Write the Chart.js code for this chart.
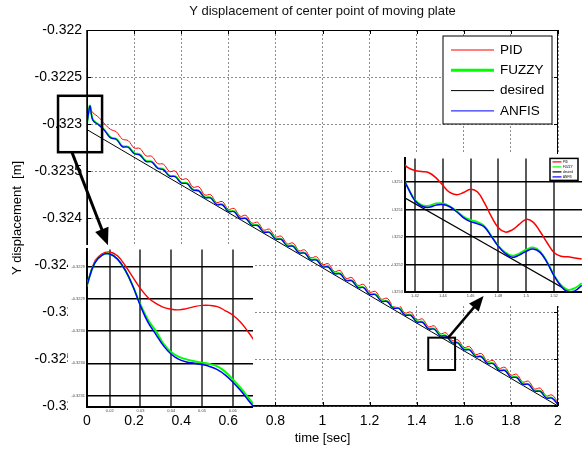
<!DOCTYPE html>
<html>
<head>
<meta charset="utf-8">
<script src="https://cdn.jsdelivr.net/npm/chart.js@4.4.0/dist/chart.umd.min.js"></script>
<style>
  html, body { margin: 0; padding: 0; background: #fff; }
  #wrap { position: relative; width: 582px; height: 450px; overflow: hidden; }
  canvas { position: absolute; }
  #mainChart { left: 0; top: 0; }
  #leftInset { left: 68px; top: 245px; background: #fff; }
  #rightInset { left: 392px; top: 154px; background: #fff; }
  #overlay { left: 0; top: 0; pointer-events: none; }
</style>
</head>
<body>
<div id="wrap">
  <canvas id="mainChart" width="582" height="450"></canvas>
  <canvas id="leftInset" width="185" height="168"></canvas>
  <canvas id="rightInset" width="190" height="152"></canvas>
  <canvas id="overlay" width="582" height="450"></canvas>
</div>
<script>
// ---- main plot data (time in s, displacement in m) ----
const mainXTicks = [0, 0.2, 0.4, 0.6, 0.8, 1, 1.2, 1.4, 1.6, 1.8, 2];
const mainYTicks = [-0.326, -0.3255, -0.325, -0.3245, -0.324, -0.3235, -0.323, -0.3225, -0.322];

const desiredTime = [0, 2];
const desiredMain = [-0.32306, -0.326];

const mainTime = [0, 0.006, 0.013,
  0.025, 0.05, 0.075, 0.1, 0.125, 0.15, 0.175, 0.2, 0.225, 0.25, 0.275, 0.3, 0.325, 0.35, 0.375, 0.4,
  0.425, 0.45, 0.475, 0.5, 0.525, 0.55, 0.575, 0.6, 0.625, 0.65, 0.675, 0.7, 0.725, 0.75, 0.775, 0.8,
  0.825, 0.85, 0.875, 0.9, 0.925, 0.95, 0.975, 1, 1.025, 1.05, 1.075, 1.1, 1.125, 1.15, 1.175, 1.2,
  1.225, 1.25, 1.275, 1.3, 1.325, 1.35, 1.375, 1.4, 1.425, 1.45, 1.475, 1.5, 1.525, 1.55, 1.575, 1.6,
  1.625, 1.65, 1.675, 1.7, 1.725, 1.75, 1.775, 1.8, 1.825, 1.85, 1.875, 1.9, 1.925, 1.95, 1.975, 2];

const pidMain = [-0.32300, -0.32290, -0.32284,
  -0.32288, -0.32293, -0.323000, -0.323057, -0.323084, -0.323161, -0.323177, -0.323254, -0.323261, -0.323338,
  -0.323344, -0.323421, -0.323428, -0.323505, -0.323501, -0.323588, -0.323585, -0.323672, -0.323668, -0.323755,
  -0.323752, -0.323834, -0.323825, -0.323907, -0.323899, -0.323981, -0.323972, -0.324054, -0.324046, -0.324128,
  -0.324119, -0.324201, -0.324193, -0.324275, -0.324266, -0.324348, -0.324340, -0.324422, -0.324413, -0.324495,
  -0.324487, -0.324569, -0.324560, -0.324642, -0.324634, -0.324716, -0.324707, -0.324789, -0.324781, -0.324863,
  -0.324854, -0.324936, -0.324928, -0.325010, -0.325001, -0.325083, -0.325075, -0.325157, -0.325148, -0.325230,
  -0.325222, -0.325304, -0.325295, -0.325377, -0.325369, -0.325451, -0.325442, -0.325524, -0.325516, -0.325598,
  -0.325589, -0.325671, -0.325663, -0.325745, -0.325736, -0.325818, -0.325810, -0.325892, -0.325883, -0.325965];

const fuzzyMain = [-0.32300, -0.32289, -0.322805,
  -0.322955, -0.323005, -0.323065, -0.323142, -0.323159, -0.323236, -0.323242, -0.323309, -0.323326, -0.323393,
  -0.323399, -0.323466, -0.323483, -0.323550, -0.323556, -0.323623, -0.323630, -0.323697, -0.323708, -0.323778,
  -0.323782, -0.323852, -0.323855, -0.323925, -0.323929, -0.323999, -0.324002, -0.324072, -0.324076, -0.324146,
  -0.324149, -0.324219, -0.324223, -0.324293, -0.324296, -0.324366, -0.324370, -0.324440, -0.324443, -0.324513,
  -0.324517, -0.324587, -0.324590, -0.324660, -0.324664, -0.324734, -0.324737, -0.324807, -0.324811, -0.324881,
  -0.324884, -0.324954, -0.324958, -0.325028, -0.325031, -0.325101, -0.325105, -0.325175, -0.325178, -0.325248,
  -0.325252, -0.325322, -0.325325, -0.325395, -0.325399, -0.325469, -0.325472, -0.325542, -0.325546, -0.325616,
  -0.325619, -0.325689, -0.325693, -0.325763, -0.325766, -0.325836, -0.325840, -0.325910, -0.325913, -0.325983];

const anfisMain = [-0.32300, -0.32289, -0.32281,
  -0.32296, -0.32301, -0.323070, -0.323147, -0.323164, -0.323241, -0.323247, -0.323314, -0.323331, -0.323398,
  -0.323404, -0.323471, -0.323488, -0.323555, -0.323561, -0.323628, -0.323635, -0.323702, -0.323713, -0.323783,
  -0.323787, -0.323857, -0.323860, -0.323930, -0.323934, -0.324004, -0.324007, -0.324077, -0.324081, -0.324151,
  -0.324154, -0.324224, -0.324228, -0.324298, -0.324301, -0.324371, -0.324375, -0.324445, -0.324448, -0.324518,
  -0.324522, -0.324592, -0.324595, -0.324665, -0.324669, -0.324739, -0.324742, -0.324812, -0.324816, -0.324886,
  -0.324889, -0.324959, -0.324963, -0.325033, -0.325036, -0.325106, -0.325110, -0.325180, -0.325183, -0.325253,
  -0.325257, -0.325327, -0.325330, -0.325400, -0.325404, -0.325474, -0.325477, -0.325547, -0.325551, -0.325621,
  -0.325624, -0.325694, -0.325698, -0.325768, -0.325771, -0.325841, -0.325845, -0.325915, -0.325918, -0.325988];

// zoom boxes and arrows on the main plot, in data units
const leftBoxTime = [-0.123, 0.064];
const leftBoxValue = [-0.3227, -0.3233];
const rightBoxTime = [1.449, 1.563];
const rightBoxValue = [-0.325273, -0.325617];
const leftArrowTime = [-0.064, 0.089];
const leftArrowValue = [-0.3233, -0.32429];
const rightArrowTime = [1.533, 1.684];
const rightArrowValue = [-0.325277, -0.32483];

// ---- left inset (start of the run) ----
const leftXTicks = [0.02, 0.03, 0.04, 0.05, 0.06];
const leftYTicks = [-0.32305, -0.323, -0.32295, -0.3229, -0.32285];
const leftTime = [0.0125, 0.015, 0.0175, 0.02, 0.0225, 0.025, 0.0275, 0.03, 0.0325, 0.035, 0.0375, 0.04,
  0.0425, 0.045, 0.0475, 0.05, 0.0525, 0.055, 0.0575, 0.06, 0.0625, 0.065, 0.0675];
const pidLeft = [-0.322880, -0.322843, -0.322830, -0.322827, -0.322833, -0.322848, -0.322866, -0.322884,
  -0.322898, -0.322907, -0.322913, -0.322916, -0.322917, -0.322915, -0.322912, -0.322910, -0.322910,
  -0.322912, -0.322918, -0.322925, -0.322936, -0.322951, -0.322968];
const fuzzyLeft = [-0.322880, -0.322845, -0.322832, -0.322830, -0.322838, -0.322855, -0.322880, -0.322909,
  -0.322933, -0.322950, -0.322970, -0.322983, -0.322990, -0.322994, -0.322997, -0.322999, -0.323001,
  -0.323005, -0.323013, -0.323025, -0.323038, -0.323053, -0.323068];
const anfisLeft = [-0.322880, -0.322845, -0.322832, -0.322830, -0.322838, -0.322855, -0.322880, -0.322911,
  -0.322937, -0.322955, -0.322973, -0.322986, -0.322994, -0.322998, -0.323000, -0.323002, -0.323005,
  -0.323010, -0.323018, -0.323029, -0.323042, -0.323057, -0.323072];

// ---- right inset (around t = 1.48 s) ----
const rightXTicks = [1.42, 1.44, 1.46, 1.48, 1.5, 1.52];
const rightYTicks = [-0.3253, -0.32525, -0.3252, -0.32515, -0.3251];
const rightTime = [1.41, 1.415, 1.42, 1.425, 1.43, 1.435, 1.44, 1.445, 1.45, 1.455, 1.46, 1.465, 1.47, 1.475,
  1.48, 1.485, 1.49, 1.495, 1.5, 1.505, 1.51, 1.515, 1.52, 1.525, 1.53, 1.535, 1.54];
const pidRight = [-0.325062, -0.325074, -0.325079, -0.325081, -0.325083, -0.325092, -0.325106, -0.325119,
  -0.325123, -0.325119, -0.325113, -0.325118, -0.325138, -0.325163, -0.325183, -0.325191, -0.325187,
  -0.325177, -0.325168, -0.325173, -0.325190, -0.325210, -0.325228, -0.325235, -0.325236, -0.325238, -0.325240];
const fuzzyRight = [-0.325085, -0.325111, -0.325133, -0.325142, -0.325143, -0.325139, -0.325139, -0.325144,
  -0.325153, -0.325163, -0.325169, -0.325173, -0.325180, -0.325198, -0.325216, -0.325228, -0.325234,
  -0.325230, -0.325223, -0.325219, -0.325226, -0.325245, -0.325269, -0.325287, -0.325296, -0.325293, -0.325284];
const anfisRight = [-0.325085, -0.325111, -0.325134, -0.325144, -0.325146, -0.325142, -0.325141, -0.325145,
  -0.325154, -0.325165, -0.325172, -0.325176, -0.325182, -0.325199, -0.325217, -0.325230, -0.325237,
  -0.325233, -0.325226, -0.325222, -0.325228, -0.325246, -0.325270, -0.325289, -0.325300, -0.325298, -0.325288];
const desiredRightTime = [1.41, 1.54];
const desiredRight = [-0.325125, -0.325312];

Chart.defaults.font.family = "'Liberation Sans', Arial, sans-serif";
Chart.defaults.color = '#000';

const pts = (xs, ys) => xs.map((x, i) => ({ x: x, y: ys[i] }));
const fixTicks = arr => axis => { axis.ticks = arr.map(v => ({ value: v })); };

// box + inward tick marks around the main axes
const framePlugin = {
  id: 'frame',
  afterDraw(chart) {
    const { ctx, chartArea: a, scales } = chart;
    ctx.save();
    ctx.strokeStyle = '#000';
    ctx.lineWidth = 1;
    ctx.strokeRect(a.left + 0.5, a.top + 0.5, a.width - 1, a.height - 1);
    ctx.lineWidth = 1.5;
    ctx.beginPath();
    ctx.moveTo(a.left, a.top); ctx.lineTo(a.left, a.bottom); ctx.lineTo(a.right, a.bottom);
    ctx.stroke();
    ctx.lineWidth = 1;
    ctx.beginPath();
    scales.x.ticks.forEach(t => {
      const x = Math.round(scales.x.getPixelForValue(t.value)) + 0.5;
      ctx.moveTo(x, a.top); ctx.lineTo(x, a.top + 4);
      ctx.moveTo(x, a.bottom); ctx.lineTo(x, a.bottom - 4);
    });
    scales.y.ticks.forEach(t => {
      const y = Math.round(scales.y.getPixelForValue(t.value)) + 0.5;
      ctx.moveTo(a.left, y); ctx.lineTo(a.left + 4, y);
      ctx.moveTo(a.right, y); ctx.lineTo(a.right - 4, y);
    });
    ctx.stroke();
    ctx.restore();
  }
};

// legend box drawn inside the plot area
const boxLegend = {
  id: 'boxLegend',
  afterDraw(chart, args, o) {
    const { ctx, chartArea } = chart;
    const x = chartArea.right - o.right - o.w;
    const y = chartArea.top + o.top;
    ctx.save();
    ctx.fillStyle = '#fff';
    ctx.fillRect(x, y, o.w, o.h);
    ctx.strokeStyle = '#000';
    ctx.lineWidth = o.border;
    ctx.strokeRect(x, y, o.w, o.h);
    ctx.font = o.fontSize + "px 'Liberation Sans', Arial, sans-serif";
    ctx.textBaseline = 'middle';
    chart.data.datasets.forEach((ds, i) => {
      const ry = y + o.row0 + i * o.rowGap;
      ctx.strokeStyle = ds.borderColor;
      ctx.lineWidth = ds.legendWidth * o.lineScale;
      ctx.beginPath();
      ctx.moveTo(x + o.line0, ry);
      ctx.lineTo(x + o.line1, ry);
      ctx.stroke();
      ctx.fillStyle = '#000';
      ctx.fillText(ds.label, x + o.text, ry);
    });
    ctx.restore();
  }
};

function drawArrow(ctx, x0, y0, x1, y1, width, head) {
  const ang = Math.atan2(y1 - y0, x1 - x0);
  const c = Math.cos(ang), s = Math.sin(ang);
  ctx.lineWidth = width;
  ctx.beginPath();
  ctx.moveTo(x0, y0);
  ctx.lineTo(x1 - c * head * 0.8, y1 - s * head * 0.8);
  ctx.stroke();
  ctx.beginPath();
  ctx.moveTo(x1, y1);
  ctx.lineTo(x1 - c * head + s * head * 0.42, y1 - s * head - c * head * 0.42);
  ctx.lineTo(x1 - c * head - s * head * 0.42, y1 - s * head + c * head * 0.42);
  ctx.closePath();
  ctx.fill();
}

// zoom rectangles and arrows, placed through the main chart's scales, on the top canvas
const zoomMarks = {
  id: 'zoomMarks',
  afterDraw(chart) {
    const ctx = document.getElementById('overlay').getContext('2d');
    const px = t => chart.scales.x.getPixelForValue(t);
    const py = v => chart.scales.y.getPixelForValue(v);
    ctx.clearRect(0, 0, 582, 450);
    ctx.strokeStyle = '#000';
    ctx.fillStyle = '#000';
    ctx.lineWidth = 2.5;
    ctx.strokeRect(px(leftBoxTime[0]), py(leftBoxValue[0]),
      px(leftBoxTime[1]) - px(leftBoxTime[0]), py(leftBoxValue[1]) - py(leftBoxValue[0]));
    ctx.lineWidth = 2;
    ctx.strokeRect(px(rightBoxTime[0]), py(rightBoxValue[0]),
      px(rightBoxTime[1]) - px(rightBoxTime[0]), py(rightBoxValue[1]) - py(rightBoxValue[0]));
    drawArrow(ctx, px(leftArrowTime[0]), py(leftArrowValue[0]), px(leftArrowTime[1]), py(leftArrowValue[1]), 3, 17);
    drawArrow(ctx, px(rightArrowTime[0]), py(rightArrowValue[0]), px(rightArrowTime[1]), py(rightArrowValue[1]), 2.5, 15);
  }
};

const mainChart = new Chart(document.getElementById('mainChart'), {
  type: 'line',
  data: {
    datasets: [
      { label: 'PID', data: pts(mainTime, pidMain), borderColor: '#ff0000', borderWidth: 1, legendWidth: 1, order: 3 },
      { label: 'FUZZY', data: pts(mainTime, fuzzyMain), borderColor: '#00ff00', borderWidth: 2, legendWidth: 3, order: 1 },
      { label: 'desired', data: pts(desiredTime, desiredMain), borderColor: '#000000', borderWidth: 1, legendWidth: 1, order: 2 },
      { label: 'ANFIS', data: pts(mainTime, anfisMain), borderColor: '#0000ff', borderWidth: 1.3, legendWidth: 1, order: 0 }
    ]
  },
  options: {
    responsive: false,
    animation: false,
    devicePixelRatio: 1,
    layout: { padding: { left: 0, right: 24, top: 0, bottom: 0 } },
    elements: { point: { radius: 0 }, line: { tension: 0.4 } },
    plugins: {
      legend: { display: false },
      tooltip: { enabled: false },
      title: {
        display: true,
        text: 'Y displacement of center point of moving plate',
        fullSize: false,
        color: '#111',
        font: { size: 13, weight: 'normal' },
        padding: { top: 4, bottom: 10.4 }
      },
      boxLegend: { right: 6, top: 6, w: 109, h: 88, border: 1, row0: 14, rowGap: 20.3,
        line0: 8, line1: 51, text: 57, fontSize: 13.5, lineScale: 1 }
    },
    scales: {
      x: {
        type: 'linear', min: 0, max: 2,
        afterBuildTicks: fixTicks(mainXTicks),
        afterFit: axis => { axis.height = 44; },
        grid: { color: '#8c8c8c', lineWidth: 1, drawTicks: false },
        border: { display: false, dash: [2, 2] },
        ticks: { font: { size: 14 }, padding: 7, maxRotation: 0, autoSkip: false,
          callback: v => String(Number(v.toFixed(1))) },
        title: { display: true, text: 'time [sec]', font: { size: 13 }, padding: { top: 0, bottom: 4.2 } }
      },
      y: {
        type: 'linear', min: -0.326, max: -0.322,
        afterBuildTicks: fixTicks(mainYTicks),
        afterFit: axis => { axis.width = 87; },
        grid: { color: '#8c8c8c', lineWidth: 1, drawTicks: false },
        border: { display: false, dash: [2, 2] },
        ticks: { font: { size: 14 }, padding: 5, autoSkip: false,
          callback: v => String(Number(v.toFixed(4))) },
        title: { display: true, text: 'Y displacement  [m]', font: { size: 13 }, padding: { top: 10, bottom: 0 } }
      }
    }
  },
  plugins: [framePlugin, boxLegend, zoomMarks]
});

function insetScales(xMin, xMax, xTicks, yMin, yMax, yTicks, leftW, bottomH, xDigits) {
  return {
    x: {
      type: 'linear', min: xMin, max: xMax,
      afterBuildTicks: fixTicks(xTicks),
      afterFit: axis => { axis.height = bottomH; },
      grid: { color: '#5a5a5a', lineWidth: 2, drawTicks: false },
      border: { color: '#000', width: 2 },
      ticks: { font: { size: 4 }, color: '#444', padding: 1, maxRotation: 0, autoSkip: false,
        callback: v => String(Number(v.toFixed(xDigits))) }
    },
    y: {
      type: 'linear', min: yMin, max: yMax,
      afterBuildTicks: fixTicks(yTicks),
      afterFit: axis => { axis.width = leftW; },
      grid: { color: '#000', lineWidth: 1.4, drawTicks: false },
      border: { color: '#000', width: 2 },
      ticks: { font: { size: 4 }, color: '#444', padding: 2, autoSkip: false,
        callback: v => v.toFixed(4) }
    }
  };
}

new Chart(document.getElementById('leftInset'), {
  type: 'line',
  data: {
    datasets: [
      { label: 'PID', data: pts(leftTime, pidLeft), borderColor: '#ff0000', borderWidth: 1.4, order: 2 },
      { label: 'FUZZY', data: pts(leftTime, fuzzyLeft), borderColor: '#00ff00', borderWidth: 2, order: 1 },
      { label: 'ANFIS', data: pts(leftTime, anfisLeft), borderColor: '#0000ff', borderWidth: 1.5, order: 0 }
    ]
  },
  options: {
    responsive: false, animation: false, devicePixelRatio: 1,
    layout: { padding: 0 },
    elements: { point: { radius: 0 }, line: { tension: 0.4 } },
    plugins: { legend: { display: false }, tooltip: { enabled: false } },
    scales: insetScales(0.0126, 0.0666, leftXTicks, -0.323068, -0.322823, leftYTicks, 19, 6, 2)
  }
});

new Chart(document.getElementById('rightInset'), {
  type: 'line',
  data: {
    datasets: [
      { label: 'PID', data: pts(rightTime, pidRight), borderColor: '#ff0000', borderWidth: 1.5, legendWidth: 1.2, order: 3 },
      { label: 'FUZZY', data: pts(rightTime, fuzzyRight), borderColor: '#00ff00', borderWidth: 1.8, legendWidth: 1.2, order: 1 },
      { label: 'desired', data: pts(desiredRightTime, desiredRight), borderColor: '#000000', borderWidth: 1.3, legendWidth: 1.2, order: 2 },
      { label: 'ANFIS', data: pts(rightTime, anfisRight), borderColor: '#0000ff', borderWidth: 1.5, legendWidth: 1.2, order: 0 }
    ]
  },
  options: {
    responsive: false, animation: false, devicePixelRatio: 1,
    layout: { padding: { top: 1, left: 0, right: 0, bottom: 0 } },
    elements: { point: { radius: 0 }, line: { tension: 0.4 } },
    plugins: {
      legend: { display: false },
      tooltip: { enabled: false },
      boxLegend: { right: 4, top: 0, w: 28, h: 22, border: 1.5, row0: 3.5, rowGap: 5,
        line0: 2.5, line1: 11.5, text: 13, fontSize: 3, lineScale: 1 }
    },
    scales: insetScales(1.4128, 1.5402, rightXTicks, -0.3253, -0.325057, rightYTicks, 13, 14, 2)
  },
  plugins: [boxLegend]
});
</script>
</body>
</html>
